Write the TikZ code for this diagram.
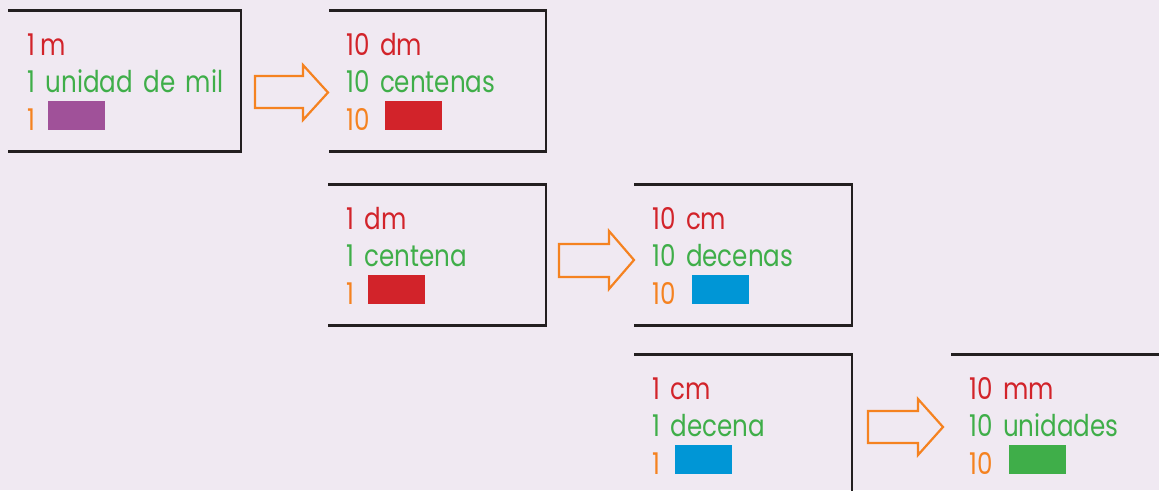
\documentclass[tikz,border=0pt]{standalone}
\usepackage{fontspec}
\setmainfont[FakeStretch=0.82, WordSpace={1.6}]{Poppins}
\definecolor{bg}{HTML}{F0E9F2}
\definecolor{tred}{HTML}{D2232A}
\definecolor{tgreen}{HTML}{3FAE49}
\definecolor{torange}{HTML}{F58220}
\definecolor{tpurple}{HTML}{A05199}
\definecolor{tblue}{HTML}{0096D6}
\definecolor{lineblack}{HTML}{231F20}
\tikzset{
  boxline/.style={draw=lineblack, line width=2.6pt},
  lbl/.style={anchor=base west, inner sep=0pt, font=\fontsize{30}{32}\selectfont},
  redt/.style={lbl, text=tred},
  greent/.style={lbl, text=tgreen},
  oranget/.style={lbl, text=torange},
  swatch/.style={anchor=south west, inner sep=0pt, minimum width=57pt, minimum height=29pt},
  blockarrow/.style={draw=torange, line width=2.2pt, line join=miter, fill=none}
}
\begin{document}
\begin{tikzpicture}[x=1pt,y=-1pt]
\fill[bg] (0,0) rectangle (1159,490);
\useasboundingbox (0,0) rectangle (1159,490);

% Box 1
\draw[boxline] (8,10.5) -- (241,10.5) -- (241,151.5) -- (8,151.5);
\node[redt] (a1) at (27,55) {1\,m};
\node[greent] (a2) at (27,92) {1 unidad de mil};
\node[oranget] (a3) at (27,130) {1};
\node[swatch, fill=tpurple] (as) at (48,130) {};

% Box 2
\draw[boxline] (329,10.5) -- (546,10.5) -- (546,151.5) -- (329,151.5);
\node[redt] (b1) at (346,55) {10 dm};
\node[greent] (b2) at (346,92) {10 centenas};
\node[oranget] (b3) at (346,130) {10};
\node[swatch, fill=tred] (bs) at (385,130) {};

% Box 3
\draw[boxline] (328,184.5) -- (546,184.5) -- (546,325.5) -- (328,325.5);
\node[redt] (c1) at (346,229) {1 dm};
\node[greent] (c2) at (346,266) {1 centena};
\node[oranget] (c3) at (346,304) {1};
\node[swatch, fill=tred] (cs) at (368,304) {};

% Box 4
\draw[boxline] (634,184.5) -- (852,184.5) -- (852,325.5) -- (634,325.5);
\node[redt] (d1) at (652,229) {10 cm};
\node[greent] (d2) at (652,266) {10 decenas};
\node[oranget] (d3) at (652,304) {10};
\node[swatch, fill=tblue] (ds) at (692,304) {};

% Box 5
\draw[boxline] (634,354.5) -- (852,354.5) -- (852,492);
\node[redt] (e1) at (652,399) {1 cm};
\node[greent] (e2) at (652,436) {1 decena};
\node[oranget] (e3) at (652,474) {1};
\node[swatch, fill=tblue] (es) at (675,474) {};

% Box 6
\draw[boxline] (951,354.5) -- (1162,354.5);
\node[redt] (f1) at (969,399) {10 mm};
\node[greent] (f2) at (969,436) {10 unidades};
\node[oranget] (f3) at (969,474) {10};
\node[swatch, fill=tgreen] (fs) at (1009,474) {};

% Arrows
\draw[blockarrow] (255,76) -- (303,76) -- (303,65) -- (328,92.5) -- (303,120) -- (303,108) -- (255,108) -- cycle;
\draw[blockarrow] (559,244) -- (609,244) -- (609,231) -- (634,260) -- (609,289) -- (609,277) -- (559,277) -- cycle;
\draw[blockarrow] (868,411) -- (918,411) -- (918,399) -- (943,427) -- (918,455) -- (918,443) -- (868,443) -- cycle;
\end{tikzpicture}
\end{document}
